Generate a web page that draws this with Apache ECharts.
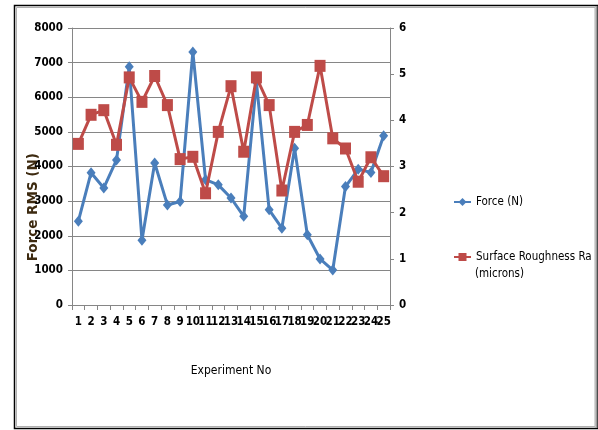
<!DOCTYPE html>
<html>
<head>
<meta charset="utf-8">
<script src="https://cdn.jsdelivr.net/npm/echarts@6/dist/echarts.min.js"></script>
<style>
  html, body { margin: 0; padding: 0; background: #fff; }
  #chart { width: 598px; height: 430px; }
</style>
</head>
<body>
<div id="chart"></div>
<script>
// Experiment numbers along the x axis
const experiments = ['1','2','3','4','5','6','7','8','9','10','11','12','13','14','15','16','17','18','19','20','21','22','23','24','25'];
// Force RMS per experiment (N), left axis
const forceN = [2420, 3820, 3380, 4190, 6880, 1870, 4100, 2890, 2990, 7310, 3620, 3470, 3090, 2560, 6430, 2750, 2220, 4530, 2030, 1330, 1010, 3420, 3920, 3830, 4890];
// Surface roughness Ra per experiment (microns), right axis
const roughnessRa = [3.49, 4.12, 4.22, 3.47, 4.93, 4.40, 4.96, 4.33, 3.16, 3.21, 2.42, 3.75, 4.74, 3.32, 4.93, 4.33, 2.48, 3.75, 3.90, 5.18, 3.61, 3.39, 2.67, 3.20, 2.79];
// Axis ticks
const forceTicks = { min: 0, max: 8000, step: 1000 };
const raTicks = { min: 0, max: 6, step: 1 };

const labelFont = '"DejaVu Sans Condensed", "Liberation Sans Narrow", "Liberation Sans", sans-serif';
const BLUE = '#4a7ebb';
const RED = '#be4b48';

const tickLabel = { color: '#000', fontWeight: 'bold', fontSize: 11.5, fontFamily: labelFont };
const legendText = { color: '#000', fontSize: 11.5, fontFamily: labelFont };

const chart = echarts.init(document.getElementById('chart'), null, { renderer: 'canvas' });
chart.setOption({
  backgroundColor: '#fff',
  animation: false,
  grid: { left: 72, right: 208, top: 28, bottom: 125, containLabel: false },
  xAxis: {
    type: 'category',
    data: experiments,
    boundaryGap: true,
    axisLine: { lineStyle: { color: '#868686', width: 1 } },
    axisTick: { show: true, length: 5, alignWithLabel: false, lineStyle: { color: '#868686' } },
    axisLabel: Object.assign({ interval: 0, margin: 11 }, tickLabel),
    name: 'Experiment No',
    nameLocation: 'middle',
    nameGap: 60,
    nameTextStyle: { color: '#000', fontSize: 12, fontFamily: labelFont }
  },
  yAxis: [
    {
      type: 'value',
      min: forceTicks.min, max: forceTicks.max, interval: forceTicks.step,
      axisLine: { show: true, lineStyle: { color: '#868686' } },
      axisTick: { show: true, length: 4, lineStyle: { color: '#868686' } },
      splitLine: { show: true, lineStyle: { color: '#868686', width: 1 } },
      axisLabel: Object.assign({ margin: 9, formatter: v => String(v) }, tickLabel)
    },
    {
      type: 'value',
      position: 'right',
      min: raTicks.min, max: raTicks.max, interval: raTicks.step,
      axisLine: { show: true, lineStyle: { color: '#868686' } },
      axisTick: { show: true, length: 4, lineStyle: { color: '#868686' } },
      splitLine: { show: false },
      axisLabel: Object.assign({ margin: 9, formatter: v => String(v) }, tickLabel)
    }
  ],
  legend: [
    {
      data: ['Force (N)'],
      orient: 'vertical',
      left: 448, top: 191,
      itemWidth: 17, itemHeight: 10, itemGap: 4,
      textStyle: legendText
    },
    {
      data: ['Surface Roughness Ra'],
      orient: 'vertical',
      left: 448, top: 246,
      itemWidth: 17, itemHeight: 10, itemGap: 4,
      textStyle: legendText
    }
  ],
  graphic: [
    // frame around the whole chart
    { type: 'rect', shape: { x: 14.5, y: 5.5, width: 583, height: 423 }, style: { fill: 'none', stroke: '#000', lineWidth: 1.5 }, silent: true },
    { type: 'line', shape: { x1: 596.5, y1: 6, x2: 596.5, y2: 428 }, style: { stroke: '#9a9a9a', lineWidth: 2 }, silent: true },
    { type: 'rect', shape: { x: 16.5, y: 7.5, width: 578.5, height: 419 }, style: { fill: 'none', stroke: '#b0b0b0', lineWidth: 1 }, silent: true },
    {
      type: 'text', left: 26, top: 153, rotation: Math.PI / 2,
      style: { text: 'Force RMS (N)', fill: '#3d2a10', font: 'bold 13.5px "DejaVu Sans", Verdana, sans-serif' }
    },
    {
      type: 'text', left: 475, top: 268,
      style: { text: '(microns)', fill: '#000', font: '11.5px ' + labelFont }
    }
  ],
  series: [
    {
      name: 'Force (N)',
      type: 'line',
      yAxisIndex: 0,
      data: forceN,
      symbol: 'diamond',
      symbolSize: [9, 11],
      lineStyle: { color: BLUE, width: 3 },
      itemStyle: { color: BLUE },
      z: 2
    },
    {
      name: 'Surface Roughness Ra',
      type: 'line',
      yAxisIndex: 1,
      data: roughnessRa,
      symbol: 'rect',
      symbolSize: [11, 12],
      lineStyle: { color: RED, width: 3 },
      itemStyle: { color: RED },
      z: 3
    }
  ]
});
</script>
</body>
</html>
